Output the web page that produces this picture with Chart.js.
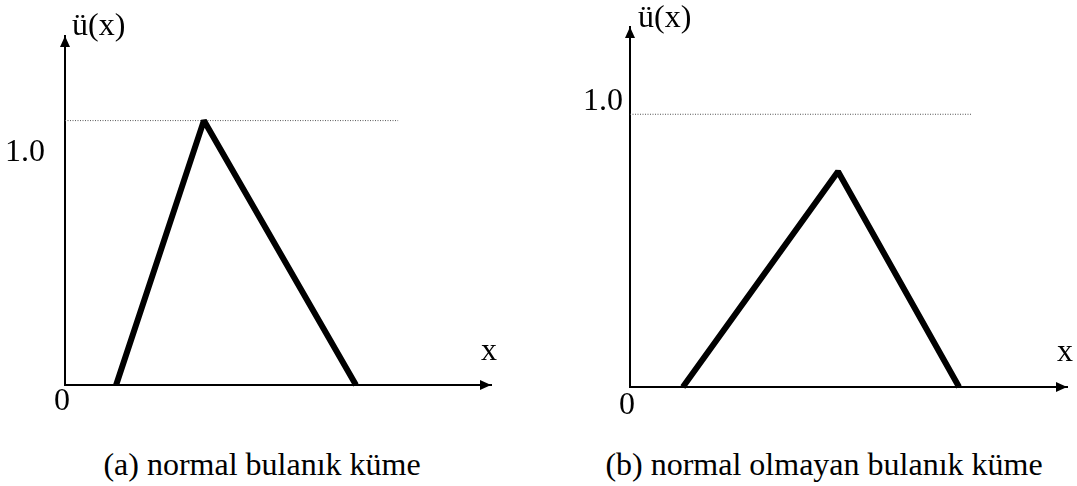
<!DOCTYPE html>
<html>
<head>
<meta charset="utf-8">
<script src="https://cdn.jsdelivr.net/npm/chart.js@4.4.1/dist/chart.umd.min.js"></script>
<style>
    body {
        margin: 0;
        background: #ffffff;
        width: 1077px;
        height: 486px;
        position: relative;
        overflow: hidden;
        font-family: 'Liberation Serif', serif;
    }
    canvas {
        position: absolute;
        top: 0;
    }
    #chartA { left: 0; }
    #chartB { left: 540px; }
    .caption {
        position: absolute;
        top: 448px;
        font-size: 32px;
        line-height: 32px;
        color: #000000;
        white-space: nowrap;
        transform: translateX(-50%);
    }
</style>
</head>
<body>
<canvas id="chartA" width="540" height="430"></canvas>
<canvas id="chartB" width="537" height="430"></canvas>
<div class="caption" style="left:262px">(a) normal bulanık küme</div>
<div class="caption" style="left:824px">(b) normal olmayan bulanık küme</div>
<script>
// (a) normal fuzzy set: triangle corners
const xNormal = [1.20, 3.26, 6.83];
const muNormal = [0, 1.0, 0];
// (b) non-normal fuzzy set: peak stays below 1.0
const xSubnormal = [1.21, 4.76, 7.53];
const muSubnormal = [0, 0.79, 0];
// dotted guide line at membership 1.0
const refLevel = 1.0;
const refEndNormal = 7.82;
const refEndSubnormal = 7.83;
// axes
const yTickValues = [1.0];
const xTickValues = [0];
const xMax = 10;
const yMax = 1.32;
const yAxisLabel = 'ü(x)';
const xAxisLabel = 'x';

Chart.defaults.font.family = 'Liberation Serif';
Chart.defaults.color = '#000000';

// draws arrow heads at axis ends and the axis names
const axisArrows = {
    id: 'axisArrows',
    afterDraw(chart, args, opts) {
        const { ctx, chartArea: { left, right, top, bottom } } = chart;
        ctx.save();
        ctx.fillStyle = '#000000';
        ctx.beginPath();
        ctx.moveTo(left, top);
        ctx.lineTo(left - 5, top + 11);
        ctx.lineTo(left + 5, top + 11);
        ctx.closePath();
        ctx.fill();

        ctx.beginPath();
        ctx.moveTo(right, bottom);
        ctx.lineTo(right - 11, bottom - 5);
        ctx.lineTo(right - 11, bottom + 5);
        ctx.closePath();
        ctx.fill();

        ctx.font = '32px "Liberation Serif"';
        ctx.textBaseline = 'middle';
        ctx.textAlign = 'left';
        ctx.fillText(yAxisLabel, left + opts.yLabelDx, top + opts.yLabelDy);
        ctx.textAlign = 'center';
        ctx.fillText(xAxisLabel, right + opts.xLabelDx, bottom + opts.xLabelDy);
        ctx.restore();
    }
};

const makeChart = (id, xs, ys, refEnd, layout) => {
    const ctx = document.getElementById(id);
    const points = xs.map((x, i) => ({ x: x, y: ys[i] }));

    const data = {
        datasets: [{
            data: points,
            borderColor: '#000000',
            borderWidth: 6,
            pointRadius: 0,
            tension: 0,
            borderCapStyle: 'butt',
            borderJoinStyle: 'bevel',
            clip: false,
        },
        {
            data: [{ x: 0, y: refLevel }, { x: refEnd, y: refLevel }],
            borderColor: '#555555',
            borderWidth: 1,
            borderDash: [1, 1.5],
            pointRadius: 0,
            clip: false,
        }]
    };

    const config = {
        type: 'line',
        data: data,
        options: {
            responsive: false,
            animation: false,
            layout: {
                padding: { top: layout.top, right: layout.right, left: 0, bottom: 0 }
            },
            plugins: {
                legend: { display: false },
                tooltip: { enabled: false },
                axisArrows: layout.labels,
            },
            scales: {
                x: {
                    type: 'linear',
                    min: 0,
                    max: xMax,
                    afterBuildTicks: (scale) => {
                        scale.ticks = xTickValues.map(v => ({ value: v }));
                    },
                    afterFit: (scale) => {
                        scale.height = layout.xHeight;
                    },
                    ticks: {
                        callback: (v) => String(v),
                        font: { size: 32, lineHeight: 1 },
                        padding: layout.xPad,
                        labelOffset: -3,
                        maxRotation: 0,
                        autoSkip: false,
                    },
                    grid: { display: false, drawTicks: false },
                    border: { display: true, color: '#000000', width: 2 },
                },
                y: {
                    type: 'linear',
                    min: 0,
                    max: yMax,
                    afterBuildTicks: (scale) => {
                        scale.ticks = yTickValues.map(v => ({ value: v }));
                    },
                    afterFit: (scale) => {
                        scale.width = layout.yWidth;
                    },
                    ticks: {
                        callback: (v) => v.toFixed(1),
                        font: { size: 32, lineHeight: 1 },
                        padding: layout.yPad,
                        labelOffset: layout.yLabelOffset,
                    },
                    grid: { display: false, drawTicks: false },
                    border: { display: true, color: '#000000', width: 2 },
                }
            }
        },
        plugins: [axisArrows]
    };

    return new Chart(ctx, config);
};

document.addEventListener('DOMContentLoaded', () => {
    makeChart('chartA', xNormal, muNormal, refEndNormal, {
        top: 32, right: 49, xHeight: 45, yWidth: 65,
        xPad: 1, yPad: 20, yLabelOffset: 32,
        labels: { yLabelDx: 7, yLabelDy: -9, xLabelDx: -2, xLabelDy: -33 }
    });
    makeChart('chartB', xSubnormal, muSubnormal, refEndSubnormal, {
        top: 27, right: 10, xHeight: 43, yWidth: 90,
        xPad: 3, yPad: 7, yLabelOffset: -13,
        labels: { yLabelDx: 8, yLabelDy: -8, xLabelDx: -2, xLabelDy: -34 }
    });
});
</script>
</body>
</html>
